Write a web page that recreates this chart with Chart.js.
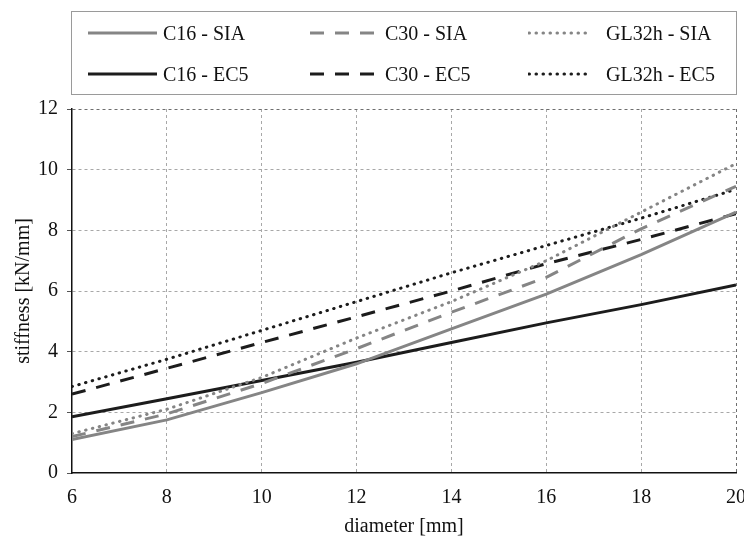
<!DOCTYPE html>
<html>
<head>
<meta charset="utf-8">
<script src="https://cdn.jsdelivr.net/npm/chart.js@4/dist/chart.umd.min.js"></script>
<style>
    html, body { margin: 0; padding: 0; background: #fff; }
    #wrap { position: relative; width: 744px; height: 539px; }
    #legend {
        position: absolute; left: 71px; top: 11px; width: 664px; height: 82px;
        border: 1px solid #9a9a9a; box-sizing: content-box;
        font-family: 'Liberation Serif', 'Times New Roman', serif; font-size: 20px; color: #111;
    }
    .item { position: absolute; height: 24px; line-height: 24px; white-space: nowrap; }
    .item svg { position: absolute; left: 0; top: 0; }
    .item span { position: absolute; top: 0; }
</style>
</head>
<body>
<div id="wrap">
    <canvas id="chart" width="744" height="539"></canvas>
    <div id="legend"></div>
</div>
<script>
// Stiffness vs. diameter for three timber grades, SIA vs. EC5
const diameters = [6, 8, 10, 12, 14, 16, 18, 20];
const c16Sia   = [1.1, 1.75, 2.65, 3.6, 4.75, 5.9, 7.2, 8.6];
const c30Sia   = [1.2, 1.95, 2.95, 4.1, 5.3, 6.45, 8.05, 9.45];
const gl32hSia = [1.3, 2.1, 3.15, 4.45, 5.65, 7.0, 8.6, 10.2];
const c16Ec5   = [1.85, 2.45, 3.05, 3.65, 4.3, 4.95, 5.55, 6.2];
const c30Ec5   = [2.6, 3.45, 4.3, 5.15, 6.0, 6.9, 7.7, 8.55];
const gl32hEc5 = [2.85, 3.75, 4.7, 5.65, 6.6, 7.5, 8.4, 9.35];

const xTicks = [6, 8, 10, 12, 14, 16, 18, 20];
const yTicks = [0, 2, 4, 6, 8, 10, 12];

const gray = '#858585';
const black = '#1c1c1c';
const dash = [14, 11];
const dot = [0.5, 6.5];
const serif = "'Liberation Serif', 'Times New Roman', serif";

const series = [
    { label: 'C16 - SIA',   values: c16Sia,   color: gray,  dash: [],   col: 0, row: 0 },
    { label: 'C30 - SIA',   values: c30Sia,   color: gray,  dash: dash, col: 1, row: 0 },
    { label: 'GL32h - SIA', values: gl32hSia, color: gray,  dash: dot,  col: 2, row: 0 },
    { label: 'C16 - EC5',   values: c16Ec5,   color: black, dash: [],   col: 0, row: 1 },
    { label: 'C30 - EC5',   values: c30Ec5,   color: black, dash: dash, col: 1, row: 1 },
    { label: 'GL32h - EC5', values: gl32hEc5, color: black, dash: dot,  col: 2, row: 1 }
];

function toPoints(values) {
    return diameters.map((d, i) => ({ x: d, y: values[i] }));
}

const datasets = series.map(s => ({
    label: s.label,
    data: toPoints(s.values),
    borderColor: s.color,
    borderWidth: 3,
    borderDash: s.dash,
    borderCapStyle: s.dash === dot ? 'round' : 'butt',
    pointRadius: 0,
    tension: 0,
    fill: false
}));

// no gridline on the axis itself, darker one on the far edge
function gridColor(ctx, first, last) {
    if (!ctx.tick) return '#a8a8a8';
    if (ctx.tick.value === first) return 'rgba(0,0,0,0)';
    return ctx.tick.value === last ? '#6e6e6e' : '#a8a8a8';
}

new Chart(document.getElementById('chart'), {
    type: 'line',
    data: { datasets },
    options: {
        responsive: false,
        animation: false,
        layout: { padding: { top: 109, right: 8, bottom: 0, left: 0 } },
        plugins: { legend: { display: false }, tooltip: { enabled: false } },
        scales: {
            x: {
                type: 'linear',
                min: 6,
                max: 20,
                afterBuildTicks: scale => { scale.ticks = xTicks.map(v => ({ value: v })); },
                afterFit: scale => { scale.height = 66; scale.paddingRight = 0; },
                border: { display: true, color: '#111', width: 1.5, dash: [3, 3] },
                grid: {
                    color: ctx => gridColor(ctx, 6, 20),
                    lineWidth: 1,
                    drawTicks: false
                },
                ticks: { color: '#111', padding: 13, font: { family: serif, size: 20 } },
                title: {
                    display: true,
                    text: 'diameter [mm]',
                    color: '#111',
                    padding: { top: 0, bottom: 0 },
                    font: { family: serif, size: 20 }
                }
            },
            y: {
                min: 0,
                max: 12,
                afterBuildTicks: scale => { scale.ticks = yTicks.map(v => ({ value: v })); },
                afterFit: scale => { scale.width = 72; scale.paddingTop = 0; },
                border: { display: true, color: '#111', width: 1.5, dash: [3, 3] },
                grid: {
                    color: ctx => gridColor(ctx, 0, 12),
                    lineWidth: 1,
                    tickLength: 5,
                    tickColor: '#555',
                    tickBorderDash: []
                },
                ticks: { color: '#111', padding: 9, font: { family: serif, size: 20 } },
                title: {
                    display: true,
                    text: 'stiffness [kN/mm]',
                    color: '#111',
                    padding: { top: 12, bottom: 0 },
                    font: { family: serif, size: 20 }
                }
            }
        }
    }
});

// Legend: 3 columns x 2 rows, line samples drawn as SVG
const legend = document.getElementById('legend');
const colX = [15, 237, 456];
const rowY = [9, 50];
series.forEach(s => {
    const item = document.createElement('div');
    item.className = 'item';
    item.style.left = colX[s.col] + 'px';
    item.style.top = rowY[s.row] + 'px';
    const w = s.col === 2 ? 60 : 70;
    const da = s.dash.length ? s.dash.join(' ') : 'none';
    const cap = s.dash === dot ? 'round' : 'butt';
    item.innerHTML =
        `<svg width="${w}" height="24"><line x1="1" y1="12" x2="${w}" y2="12" stroke="${s.color}" ` +
        `stroke-width="3" stroke-dasharray="${da}" stroke-linecap="${cap}"/></svg>` +
        `<span style="left:${w + (s.col === 2 ? 18 : 6)}px">${s.label}</span>`;
    legend.appendChild(item);
});
</script>
</body>
</html>
